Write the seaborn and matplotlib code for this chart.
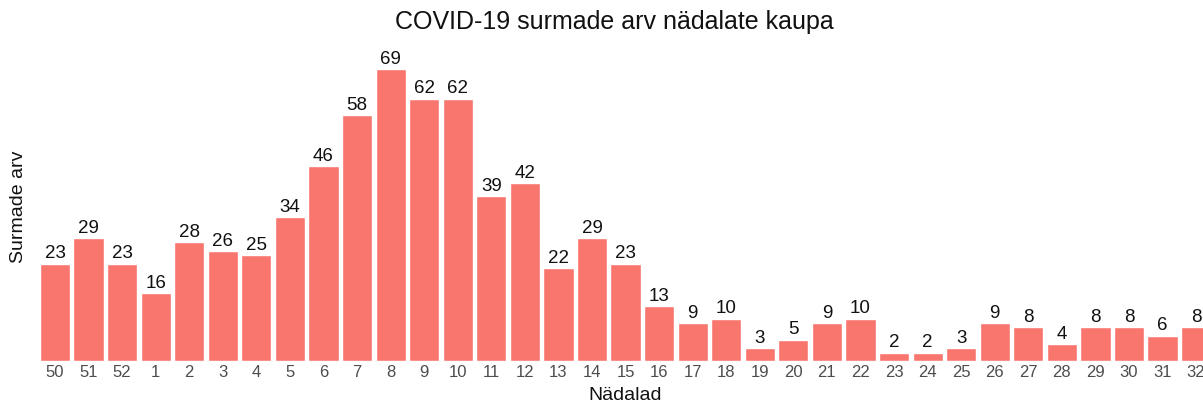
import matplotlib
matplotlib.use("Agg")
import matplotlib.pyplot as plt
import seaborn as sns
import pandas as pd

weeks = ["50", "51", "52"] + [str(i) for i in range(1, 33)]
deaths = [23, 29, 23, 16, 28, 26, 25, 34, 46, 58, 69, 62, 62,
          39, 42, 22, 29, 23, 13, 9, 10, 3, 5,
          9, 10, 2, 2, 3, 9, 8, 4, 8, 8, 6, 8]

title = "COVID-19 surmade arv nädalate kaupa"
xlabel = "Nädalad"
ylabel = "Surmade arv"

df = pd.DataFrame({"week": weeks, "deaths": deaths})

sns.set_theme(style="white")
plt.rcParams["font.family"] = ["Liberation Sans", "DejaVu Sans"]

fig = plt.figure(figsize=(12.03, 4.05), dpi=100)
ax = fig.add_axes([0.029, 0.1086, 0.982, 0.763])

sns.barplot(data=df, x="week", y="deaths", order=weeks, color="#F8766D",
            saturation=1, width=0.9, ax=ax, errorbar=None)

ax.bar_label(ax.containers[0], fontsize=13.5, padding=1, color="#111111")

ax.set_xlim(-0.6, len(weeks) - 0.4)
ax.set_ylim(0, 73)
ax.set_yticks([])
ax.tick_params(axis="x", length=0, labelsize=12, labelcolor="#4D4D4D", pad=3)
for s in ax.spines.values():
    s.set_visible(False)

ax.set_xlabel(xlabel, fontsize=14, labelpad=5, color="#111111")
ax.set_ylabel(ylabel, fontsize=14, labelpad=6, color="#111111")
fig.text(0.511, 0.945, title, ha="center", va="center", fontsize=18, color="#111111")

fig.savefig("out.png", dpi=100)
